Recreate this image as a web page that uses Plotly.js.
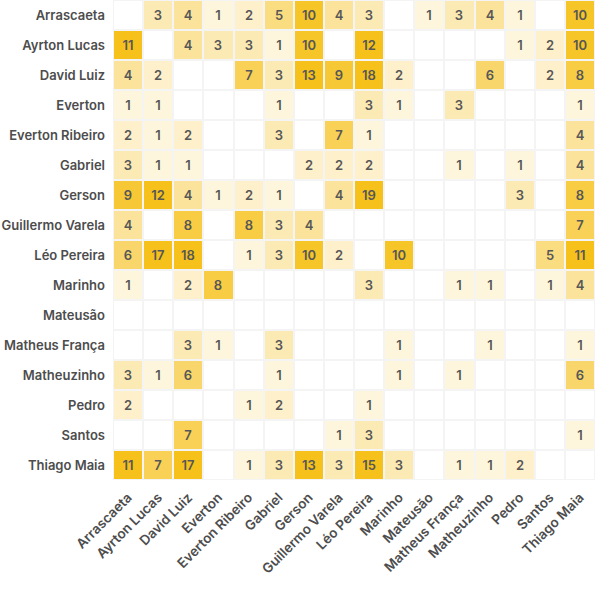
<!DOCTYPE html>
<html>
<head>
<meta charset="utf-8">
<script src="https://cdn.plot.ly/plotly-3.0.1.min.js"></script>
<style>html,body{margin:0;padding:0;background:#fff;}#chart{width:600px;height:595px;}</style>
</head>
<body>
<div id="chart"></div>
<script>
const players = ["Arrascaeta","Ayrton Lucas","David Luiz","Everton","Everton Ribeiro","Gabriel","Gerson","Guillermo Varela","Léo Pereira","Marinho","Mateusão","Matheus França","Matheuzinho","Pedro","Santos","Thiago Maia"];
const N = null;
// rows in same order as players (top to bottom), columns in players order
const rowArrascaeta      = [N,3,4,1,2,5,10,4,3,N,1,3,4,1,N,10];
const rowAyrtonLucas     = [11,N,4,3,3,1,10,N,12,N,N,N,N,1,2,10];
const rowDavidLuiz       = [4,2,N,N,7,3,13,9,18,2,N,N,6,N,2,8];
const rowEverton         = [1,1,N,N,N,1,N,N,3,1,N,3,N,N,N,1];
const rowEvertonRibeiro  = [2,1,2,N,N,3,N,7,1,N,N,N,N,N,N,4];
const rowGabriel         = [3,1,1,N,N,N,2,2,2,N,N,1,N,1,N,4];
const rowGerson          = [9,12,4,1,2,1,N,4,19,N,N,N,N,3,N,8];
const rowGuillermoVarela = [4,N,8,N,8,3,4,N,N,N,N,N,N,N,N,7];
const rowLeoPereira      = [6,17,18,N,1,3,10,2,N,10,N,N,N,N,5,11];
const rowMarinho         = [1,N,2,8,N,N,N,N,3,N,N,1,1,N,1,4];
const rowMateusao        = [N,N,N,N,N,N,N,N,N,N,N,N,N,N,N,N];
const rowMatheusFranca   = [N,N,3,1,N,3,N,N,N,1,N,N,1,N,N,1];
const rowMatheuzinho     = [3,1,6,N,N,1,N,N,N,1,N,1,N,N,N,6];
const rowPedro           = [2,N,N,N,1,2,N,N,1,N,N,N,N,N,N,N];
const rowSantos          = [N,N,7,N,N,N,N,1,3,N,N,N,N,N,N,1];
const rowThiagoMaia      = [11,7,17,N,1,3,13,3,15,3,N,1,1,2,N,N];

const z = [rowArrascaeta,rowAyrtonLucas,rowDavidLuiz,rowEverton,rowEvertonRibeiro,rowGabriel,rowGerson,rowGuillermoVarela,rowLeoPereira,rowMarinho,rowMateusao,rowMatheusFranca,rowMatheuzinho,rowPedro,rowSantos,rowThiagoMaia];
const text = z.map(r => r.map(v => v == null ? "" : String(v)));
const bg = z.map(r => r.map(() => 0));

const font = "Inter, 'Open Sans', sans-serif";
const traces = [
  {type:"heatmap", x:players, y:players, z:bg, showscale:false, hoverinfo:"skip",
   colorscale:[[0,"#ffffff"],[1,"#ffffff"]], xgap:2, ygap:2},
  {type:"heatmap", x:players, y:players, z:z, text:text, texttemplate:"%{text}",
   textfont:{family:font, size:13, color:"#575757", weight:600},
   zmin:0, zmax:11, showscale:false, xgap:2, ygap:2, hoverongaps:false,
   colorscale:[[0,"#fffdf5"],[0.09,"#fef6dc"],[0.2,"#fdefc6"],[0.3,"#fce8ad"],[0.45,"#fadc82"],[0.7,"#f8cd47"],[1,"#f5c11a"]]}
];
const layout = {
  width:600, height:595,
  margin:{l:113, r:5, t:0, b:115},
  paper_bgcolor:"#ffffff", plot_bgcolor:"#f4f4f4",
  font:{family:font, color:"#4a4a4a"},
  xaxis:{type:"category", tickangle:-45, showgrid:false, zeroline:false, ticks:"",
         tickfont:{family:font, size:13.5, color:"#4d4d4d", weight:600}, ticklabelstandoff:6},
  yaxis:{type:"category", autorange:"reversed", showgrid:false, zeroline:false, ticks:"",
         tickfont:{family:font, size:13, color:"#4d4d4d", weight:600}, ticklabelstandoff:7},
  showlegend:false
};
Plotly.newPlot("chart", traces, layout, {displayModeBar:false, staticPlot:true});
</script>
</body>
</html>
